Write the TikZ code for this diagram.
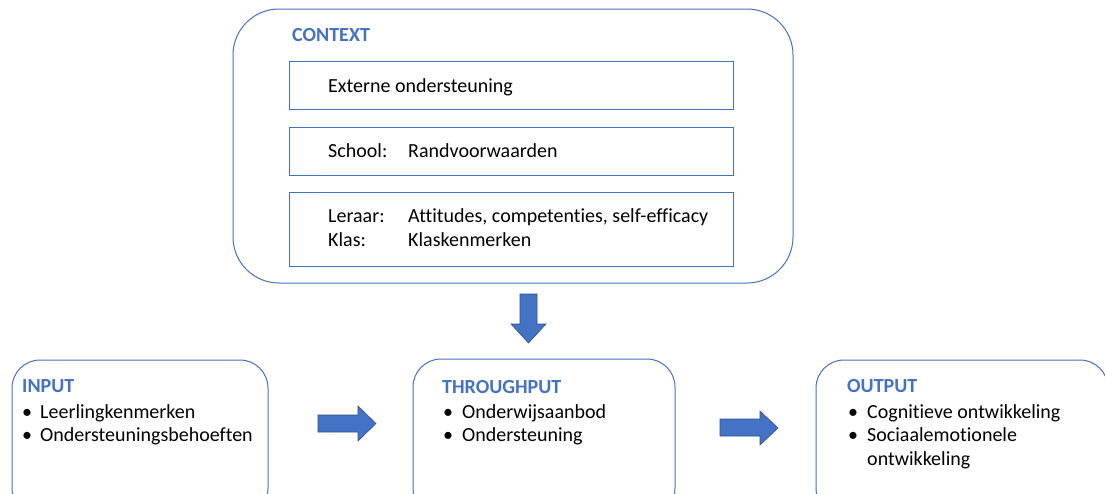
\documentclass[tikz,border=0pt]{standalone}
\usepackage{fontspec}
\setmainfont[Ligatures={NoCommon}]{Carlito}
\definecolor{accent}{HTML}{4472C4}
\definecolor{arrowedge}{HTML}{2F528F}
\begin{document}
\begin{tikzpicture}[x=1pt,y=-1pt,
  every node/.style={inner sep=0pt, anchor=base west, font=\fontsize{20}{24}\selectfont},
  roundbox/.style={draw=accent, line width=1pt},
  innerbox/.style={draw=accent, line width=1pt},
  heading/.style={font=\fontsize{20}{24}\selectfont\bfseries, text=accent},
  blockarrow/.style={fill=accent, draw=arrowedge, line width=0.6pt}]
\useasboundingbox (0,0) rectangle (1105,493);
\clip (0,0) rectangle (1105,493);
\fill[white] (0,0) rectangle (1105,493);
% context
\draw[roundbox, rounded corners=46pt] (233,9) rectangle (793,283);
\node[heading] (ctx) at (292,41) {CONTEXT};
\draw[innerbox] (289,61) rectangle (733,109);
\draw[innerbox] (289,127) rectangle (733,175);
\draw[innerbox] (289,192) rectangle (733,266);
\node (ext) at (328,92) {Externe ondersteuning};
\node (sch) at (328,157) {School:};
\node (schv) at (408,157) {Randvoorwaarden};
\node (ler) at (328,222) {Leraar:};
\node (lerv) at (408,222) {Attitudes, competenties, self-efficacy};
\node (kla) at (328,246) {Klas:};
\node (klav) at (408,246) {Klaskenmerken};
% down arrow
\draw[blockarrow] (520,294) -- (537,294) -- (537,324) -- (546,324) -- (528.5,343) -- (511,324) -- (520,324) -- cycle;
% bottom boxes
\draw[roundbox, rounded corners=28pt] (12,360) rectangle (268,516);
\draw[roundbox, rounded corners=28pt] (413,359) rectangle (675,516);
\draw[roundbox, rounded corners=28pt] (816,360) rectangle (1108,516);
% input
\node[heading] (inp) at (22,392) {INPUT};
\node (ib1) at (22,418) {•};
\node (it1) at (40,418) {Leerlingkenmerken};
\node (ib2) at (22,441) {•};
\node (it2) at (40,441) {Ondersteuningsbehoeften};
% throughput
\node[heading] (thr) at (442,393) {THROUGHPUT};
\node (tb1) at (443,418) {•};
\node (tt1) at (462,418) {Onderwijsaanbod};
\node (tb2) at (443,441) {•};
\node (tt2) at (462,441) {Ondersteuning};
% output
\node[heading] (out) at (847,392) {OUTPUT};
\node (ob1) at (848,418) {•};
\node (ot1) at (867,418) {Cognitieve ontwikkeling};
\node (ob2) at (848,441) {•};
\node (ot2) at (867,441) {Sociaalemotionele};
\node (ot3) at (867,465) {ontwikkeling};
% right arrows
\draw[blockarrow] (318,415) -- (358,415) -- (358,406) -- (376,423.5) -- (358,441) -- (358,432) -- (318,432) -- cycle;
\draw[blockarrow] (720,419) -- (760,419) -- (760,411) -- (778,428) -- (760,445) -- (760,436) -- (720,436) -- cycle;
\end{tikzpicture}
\end{document}
